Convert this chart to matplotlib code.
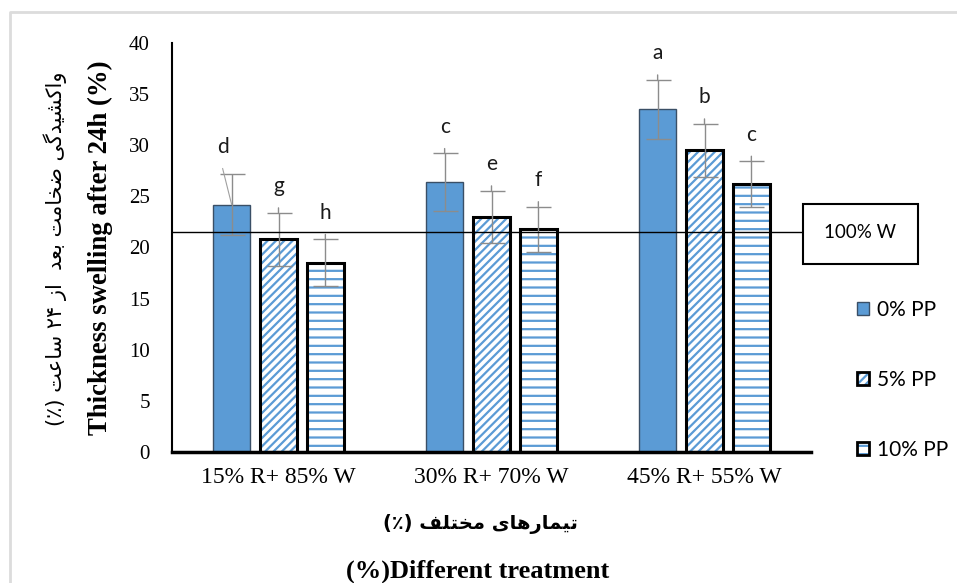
import matplotlib
matplotlib.use("Agg")
import matplotlib.pyplot as plt
import numpy as np
from matplotlib.patches import Patch, Rectangle
from matplotlib.lines import Line2D

# ---------------- data ----------------
categories = ["15% R+ 85% W", "30% R+ 70% W", "45% R+ 55% W"]
series_names = ["0% PP", "5% PP", "10% PP"]
pp0 = [24.2, 26.4, 33.5]
pp5 = [20.8, 23.0, 29.5]
pp10 = [18.5, 21.8, 26.2]
err0 = [3.0, 2.8, 2.9]
err5 = [2.6, 2.55, 2.6]
err10 = [2.3, 2.2, 2.25]
letters0 = ["d", "c", "a"]
letters5 = ["g", "e", "b"]
letters10 = ["h", "f", "c"]
ref_value = 21.5
ref_label = "100% W"
yticks = [0, 5, 10, 15, 20, 25, 30, 35, 40]

# ---------------- minimal Persian shaping (visual order) ----------------
FORMS = {  # iso, fin, ini, med ; None => right-joining only
    'ا': ('\uFE8D', '\uFE8E', None, None),
    'ب': ('\uFE8F', '\uFE90', '\uFE91', '\uFE92'),
    'ت': ('\uFE95', '\uFE96', '\uFE97', '\uFE98'),
    'خ': ('\uFEA5', '\uFEA6', '\uFEA7', '\uFEA8'),
    'د': ('\uFEA9', '\uFEAA', None, None),
    'ر': ('\uFEAD', '\uFEAE', None, None),
    'ز': ('\uFEAF', '\uFEB0', None, None),
    'س': ('\uFEB1', '\uFEB2', '\uFEB3', '\uFEB4'),
    'ش': ('\uFEB5', '\uFEB6', '\uFEB7', '\uFEB8'),
    'ض': ('\uFEBD', '\uFEBE', '\uFEBF', '\uFEC0'),
    'ع': ('\uFEC9', '\uFECA', '\uFECB', '\uFECC'),
    'ف': ('\uFED1', '\uFED2', '\uFED3', '\uFED4'),
    'ل': ('\uFEDD', '\uFEDE', '\uFEDF', '\uFEE0'),
    'م': ('\uFEE1', '\uFEE2', '\uFEE3', '\uFEE4'),
    'ه': ('\uFEE9', '\uFEEA', '\uFEEB', '\uFEEC'),
    'و': ('\uFEED', '\uFEEE', None, None),
    'ک': ('\uFB8E', '\uFB8F', '\uFB90', '\uFB91'),
    'گ': ('\uFB92', '\uFB93', '\uFB94', '\uFB95'),
    'ی': ('\uFBFC', '\uFBFD', '\uFBFE', '\uFBFF'),
}


def shape_word(w):
    out = []
    n = len(w)
    for i, ch in enumerate(w):
        if ch not in FORMS:
            out.append(ch)
            continue
        iso, fin, ini, med = FORMS[ch]
        prev = w[i - 1] if i > 0 else None
        nxt = w[i + 1] if i < n - 1 else None
        join_prev = prev in FORMS and FORMS[prev][2] is not None
        join_next = nxt in FORMS and ini is not None
        if join_prev and join_next:
            out.append(med)
        elif join_prev:
            out.append(fin)
        elif join_next:
            out.append(ini)
        else:
            out.append(iso)
    return ''.join(reversed(out))


def rtl(text):
    words = text.split(' ')
    vis = []
    for w in words:
        if w and all(c in '۰۱۲۳۴۵۶۷۸۹0123456789' for c in w):
            vis.append(w)
        elif w.startswith('(') and w.endswith(')'):
            vis.append(w)
        else:
            vis.append(shape_word(w))
    return ' '.join(reversed(vis))


ylabel_fa = rtl("واکشیدگی ضخامت بعد  از ۲۴ ساعت (٪)")
xlabel_fa = rtl("تیمارهای مختلف (٪)")
ylabel_en = "Thickness swelling after 24h (%)"
xlabel_en = "(%)Different treatment"

# ---------------- figure ----------------
W, H = 957, 583
fig = plt.figure(figsize=(W / 100, H / 100), dpi=100)
ax = fig.add_axes([172 / W, 1 - 452 / H, 639 / W, 409 / H])

BLUE = "#5B9BD5"
plt.rcParams['hatch.linewidth'] = 1.6

x = np.arange(len(categories))
off = 0.22
bw = 0.175

ax.bar(x - off, pp0, bw, color=BLUE, edgecolor="#3a4f66", linewidth=1.0, zorder=2)
ax.bar(x, pp5, bw, color="white", edgecolor=BLUE, hatch="////", linewidth=0, zorder=2)
ax.bar(x, pp5, bw, color="none", edgecolor="black", linewidth=2.2, zorder=3)
ax.bar(x + off, pp10, bw, color="white", edgecolor=BLUE, hatch="--", linewidth=0, zorder=2)
ax.bar(x + off, pp10, bw, color="none", edgecolor="black", linewidth=2.2, zorder=3)

ecol = "#8c8c8c"
first = True
for xs, vals, errs, labs in [(x - off, pp0, err0, letters0),
                             (x, pp5, err5, letters5),
                             (x + off, pp10, err10, letters10)]:
    ax.errorbar(xs, vals, yerr=errs, fmt="none", ecolor=ecol, elinewidth=1.0,
                capsize=9, capthick=1.0, zorder=4)
    for xi, v, e, l in zip(xs, vals, errs, labs):
        if first:
            ax.annotate(l, (xi, v + e), xytext=(-6, 19), textcoords="offset points",
                        ha="center", va="center", fontsize=15, family="Lato", color="#1a1a1a")
            ax.annotate("", xy=(xi, v), xytext=(-6.5, 26), textcoords="offset points",
                        xycoords="data",
                        arrowprops=dict(arrowstyle="-", color="#a0a0a0", lw=0.8,
                                        shrinkA=0, shrinkB=0), zorder=4)
            first = False
        else:
            # small stem poking above the upper cap
            ax.annotate("", xy=(xi, v + e), xytext=(0, 3.5), textcoords="offset points",
                        arrowprops=dict(arrowstyle="-", color=ecol, lw=1.0,
                                        shrinkA=0, shrinkB=0), zorder=4)
            ax.annotate(l, (xi, v + e), xytext=(0, 19), textcoords="offset points",
                        ha="center", va="center", fontsize=15, family="Lato", color="#1a1a1a")

ax.axhline(ref_value, xmin=0, xmax=(803 - 172) / 639, color="black", linewidth=1.0, zorder=5)

ax.set_xlim(-0.5, 2.5)
ax.set_ylim(0, 40)
ax.set_yticks(yticks)
ax.set_xticks(x)
ax.set_xticklabels(categories, family="Liberation Serif", fontsize=17)
ax.set_yticklabels([str(t) for t in yticks], family="Liberation Serif", fontsize=15)
ax.tick_params(axis="y", length=0, pad=16)
ax.tick_params(axis="x", length=0, pad=11)
for s in ["top", "right"]:
    ax.spines[s].set_visible(False)
ax.spines["left"].set_linewidth(1.5)
ax.spines["bottom"].set_linewidth(2.5)

# axis titles
fig.text(100 / W, 1 - 248 / H, ylabel_en, rotation=90, ha="center", va="center",
         family="Liberation Serif", fontweight="bold", fontsize=19.3)
fig.text(55 / W, 1 - 249 / H, ylabel_fa, rotation=90, ha="center", va="center",
         family="DejaVu Sans", fontsize=15)
fig.text(480 / W, 1 - 524 / H, xlabel_fa, ha="center", va="center",
         family="DejaVu Sans", fontweight="bold", fontsize=14)
fig.text(478 / W, 1 - 571 / H, xlabel_en, ha="center", va="center",
         family="Liberation Serif", fontweight="bold", fontsize=19)

# reference box
fig.patches.append(Rectangle((803 / W, 1 - 264 / H), 115 / W, 60 / H, transform=fig.transFigure,
                             facecolor="white", edgecolor="black", linewidth=1.5))
fig.text(860 / W, 1 - 232 / H, ref_label, ha="center", va="center", family="Lato", fontsize=13.5)

# legend
h0 = Patch(facecolor=BLUE, edgecolor="#3a4f66", linewidth=1.0)
h5 = (Patch(facecolor="white", edgecolor=BLUE, hatch="////", linewidth=0),
      Patch(facecolor="none", edgecolor="black", linewidth=2))
h10 = (Patch(facecolor="white", edgecolor=BLUE, hatch="--", linewidth=0),
       Patch(facecolor="none", edgecolor="black", linewidth=2))
fig.legend([h0, h5, h10], series_names, loc="upper left",
           bbox_to_anchor=(838 / W, 1 - 281 / H), frameon=False,
           prop={"family": "Lato", "size": 15}, labelspacing=2.4,
           handlelength=0.6, handleheight=0.6, handletextpad=0.35)

# outer frame
frame = Line2D([10 / W, 10 / W, 1.0], [0.0, 1 - 12 / H, 1 - 12 / H], transform=fig.transFigure,
               color="#dcdcdc", linewidth=2)
fig.lines.append(frame)

fig.savefig("out.png", dpi=100)
